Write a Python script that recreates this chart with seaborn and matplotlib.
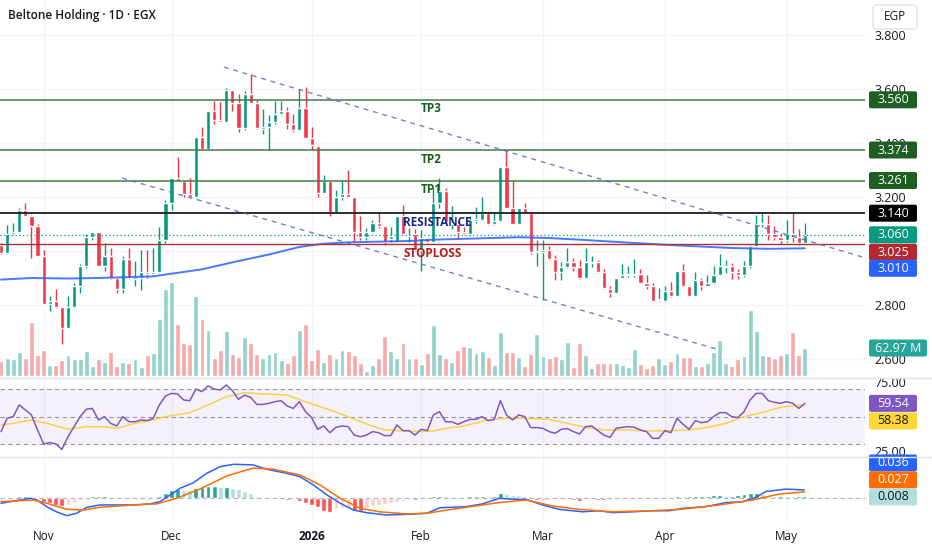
import numpy as np
import seaborn as sns
import matplotlib
matplotlib.use("Agg")
import matplotlib.pyplot as plt
from matplotlib.patches import FancyBboxPatch
from matplotlib.transforms import Affine2D
from matplotlib.lines import Line2D

# ---------------- data (daily bars, EGX) ----------------
opens = [3.023, 2.992, 3.064, 3.072, 3.150, 3.130, 3.091, 2.983, 2.805, 2.815,
         2.794, 2.713, 2.794, 2.872, 2.943, 3.050, 3.072, 2.943, 2.983, 2.900,
         2.860, 2.972, 2.898, 2.900, 2.922, 2.913, 2.922, 3.042, 3.179, 3.271,
         3.260, 3.211, 3.199, 3.422, 3.376, 3.520, 3.486, 3.478, 3.598, 3.548,
         3.457, 3.580, 3.548, 3.452, 3.459, 3.478, 3.508, 3.520, 3.469, 3.447,
         3.530, 3.420, 3.388, 3.214, 3.260, 3.140, 3.201, 3.211, 3.201, 3.072,
         3.051, 3.072, 3.103, 3.091, 3.045, 3.035, 3.130, 3.055, 3.064, 3.005,
         3.048, 3.032, 3.179, 3.222, 3.100, 3.100, 3.072, 3.064, 3.110, 3.115,
         3.140, 3.101, 3.112, 3.310, 3.158, 3.101, 3.158, 3.140, 2.995, 2.998,
         3.002, 2.972, 2.922, 2.941, 2.961, 2.941, 2.900, 2.955, 2.961, 2.922,
         2.860, 2.845, 2.900, 2.912, 2.912, 2.915, 2.882, 2.870, 2.818, 2.814,
         2.853, 2.833, 2.925, 2.872, 2.833, 2.892, 2.872, 2.882, 2.912, 2.940,
         2.943, 2.922, 2.912, 2.943, 3.020, 3.100, 3.101, 3.064, 3.051, 3.039,
         3.064, 3.051, 3.029]
highs = [3.030, 3.097, 3.103, 3.158, 3.179, 3.135, 3.100, 3.002, 2.833, 2.860,
         2.794, 2.833, 2.882, 2.953, 3.064, 3.072, 3.072, 3.030, 3.010, 2.905,
         2.980, 3.010, 2.962, 3.002, 3.002, 3.010, 3.090, 3.189, 3.271, 3.348,
         3.260, 3.272, 3.422, 3.460, 3.520, 3.557, 3.550, 3.605, 3.598, 3.582,
         3.594, 3.655, 3.560, 3.527, 3.502, 3.557, 3.557, 3.532, 3.508, 3.600,
         3.609, 3.459, 3.392, 3.280, 3.260, 3.226, 3.260, 3.300, 3.201, 3.128,
         3.084, 3.116, 3.142, 3.091, 3.090, 3.130, 3.170, 3.085, 3.080, 3.078,
         3.050, 3.238, 3.270, 3.232, 3.165, 3.110, 3.090, 3.130, 3.164, 3.201,
         3.146, 3.140, 3.310, 3.374, 3.260, 3.158, 3.177, 3.140, 3.042, 3.042,
         3.020, 2.985, 2.960, 3.010, 2.975, 2.968, 3.010, 2.980, 2.968, 2.935,
         2.870, 2.900, 2.952, 2.945, 2.970, 2.933, 2.912, 2.880, 2.862, 2.870,
         2.884, 2.925, 2.953, 2.875, 2.924, 2.900, 2.912, 2.943, 2.990, 2.968,
         2.955, 2.932, 2.962, 3.022, 3.134, 3.140, 3.134, 3.094, 3.068, 3.113,
         3.140, 3.082, 3.103]
lows = [2.990, 2.990, 3.060, 3.066, 3.128, 2.974, 2.980, 2.805, 2.777, 2.790,
        2.655, 2.713, 2.790, 2.845, 2.938, 3.040, 2.943, 2.925, 2.895, 2.845,
        2.845, 2.895, 2.870, 2.857, 2.900, 2.908, 2.918, 3.030, 3.152, 3.258,
        3.200, 3.196, 3.196, 3.374, 3.374, 3.472, 3.478, 3.478, 3.520, 3.440,
        3.447, 3.560, 3.452, 3.432, 3.374, 3.470, 3.502, 3.453, 3.440, 3.447,
        3.418, 3.373, 3.200, 3.214, 3.128, 3.140, 3.190, 3.201, 3.032, 3.040,
        3.040, 3.066, 3.085, 3.023, 3.035, 3.035, 3.060, 3.035, 3.000, 2.925,
        3.028, 3.030, 3.160, 3.103, 3.080, 3.048, 3.060, 3.060, 3.105, 3.115,
        3.097, 3.097, 3.112, 3.158, 3.101, 3.101, 3.140, 2.990, 2.943, 2.820,
        2.968, 2.894, 2.894, 2.938, 2.925, 2.897, 2.900, 2.940, 2.918, 2.860,
        2.828, 2.845, 2.900, 2.905, 2.905, 2.880, 2.860, 2.814, 2.814, 2.810,
        2.828, 2.833, 2.870, 2.833, 2.830, 2.857, 2.870, 2.878, 2.912, 2.918,
        2.896, 2.896, 2.904, 2.937, 3.020, 3.090, 3.042, 3.042, 3.025, 3.035,
        3.035, 3.023, 3.027]
closes = [2.992, 3.064, 3.072, 3.152, 3.130, 3.091, 2.983, 2.805, 2.815, 2.794,
          2.713, 2.794, 2.872, 2.943, 3.050, 3.072, 2.943, 2.983, 2.900, 2.860,
          2.972, 2.900, 2.902, 2.922, 2.913, 2.922, 3.042, 3.179, 3.271, 3.260,
          3.211, 3.199, 3.422, 3.376, 3.520, 3.484, 3.478, 3.598, 3.548, 3.457,
          3.580, 3.548, 3.457, 3.458, 3.478, 3.508, 3.520, 3.469, 3.447, 3.530,
          3.420, 3.392, 3.214, 3.260, 3.140, 3.201, 3.211, 3.201, 3.069, 3.051,
          3.072, 3.103, 3.091, 3.035, 3.055, 3.130, 3.064, 3.060, 3.005, 3.048,
          3.032, 3.179, 3.222, 3.109, 3.105, 3.072, 3.064, 3.115, 3.120, 3.140,
          3.101, 3.112, 3.310, 3.158, 3.101, 3.158, 3.140, 2.998, 3.000, 3.003,
          2.972, 2.922, 2.941, 2.961, 2.941, 2.900, 2.961, 2.960, 2.922, 2.863,
          2.845, 2.900, 2.912, 2.915, 2.915, 2.882, 2.870, 2.814, 2.820, 2.853,
          2.833, 2.925, 2.872, 2.833, 2.892, 2.872, 2.882, 2.912, 2.943, 2.945,
          2.922, 2.912, 2.943, 3.020, 3.101, 3.105, 3.064, 3.051, 3.039, 3.064,
          3.051, 3.029, 3.060]
volume_m = [34, 41, 38, 54, 40, 121, 47, 59, 25, 25,
            36, 47, 38, 38, 56, 23, 39, 32, 54, 23,
            32, 30, 39, 21, 48, 52, 128, 196, 212, 117,
            74, 72, 180, 128, 104, 41, 59, 102, 49, 43,
            87, 74, 49, 41, 49, 54, 35, 30, 47, 104,
            117, 36, 60, 32, 50, 40, 59, 56, 47, 29,
            12, 25, 41, 90, 57, 40, 74, 40, 41, 27,
            51, 115, 50, 40, 32, 59, 68, 65, 52, 56,
            43, 25, 99, 54, 54, 42, 23, 50, 95, 46,
            40, 46, 38, 76, 21, 74, 47, 19, 29, 29,
            29, 30, 25, 20, 61, 27, 17, 25, 41, 27,
            34, 51, 42, 42, 23, 23, 29, 55, 80, 30,
            23, 38, 45, 148, 102, 47, 46, 40, 47, 51,
            98, 47, 62.97]

# moving average on price (read at a few bars)
ma_bar = [0, 5, 11, 16, 22, 25, 28, 33, 38, 44, 49, 53, 57, 63, 67, 71, 76,
          85, 90, 95, 100, 109, 120, 126, 132]
ma_price = [2.894, 2.900, 2.898, 2.900, 2.904, 2.906, 2.916, 2.932, 2.958,
            2.987, 3.015, 3.027, 3.032, 3.035, 3.037, 3.042, 3.045, 3.051,
            3.048, 3.042, 3.035, 3.023, 3.011, 3.008, 3.010]

rsi = [39.0, 48.7, 49.9, 58.4, 54.7, 51.1, 40.2, 30.0, 31.0, 30.0,
       26.1, 35.3, 42.6, 49.9, 55.2, 55.9, 47.5, 49.9, 45.0, 43.1,
       49.9, 46.2, 46.2, 47.5, 47.0, 48.7, 58.4, 64.9, 66.8, 66.4,
       62.0, 61.5, 70.0, 68.1, 72.2, 70.0, 69.3, 72.9, 68.8, 62.5,
       65.6, 63.9, 58.8, 58.8, 59.6, 60.8, 61.5, 57.6, 55.9, 60.8,
       53.5, 49.2, 40.7, 43.1, 38.2, 42.1, 43.1, 42.6, 36.5, 35.3,
       36.5, 39.0, 38.2, 36.1, 36.1, 43.8, 39.7, 39.7, 36.5, 40.7,
       39.7, 51.1, 53.5, 46.2, 46.2, 44.3, 46.2, 47.9, 47.9, 49.9,
       47.0, 47.9, 61.5, 51.1, 47.5, 51.1, 49.9, 41.9, 41.9, 41.4,
       39.0, 37.8, 40.7, 41.2, 39.0, 37.3, 42.6, 43.1, 39.7, 36.5,
       34.8, 41.4, 42.1, 42.6, 42.1, 40.2, 39.0, 34.1, 34.1, 39.7,
       38.2, 48.7, 44.3, 40.7, 47.0, 45.5, 46.2, 49.9, 52.8, 52.8,
       49.9, 49.2, 53.5, 62.0, 66.8, 66.8, 61.5, 60.3, 59.6, 60.8,
       59.6, 55.9, 59.54]
rsi_ma_bar = [0, 2, 5, 8, 11, 14, 17, 19, 22, 25, 27, 31, 34, 37, 40, 43, 47,
              50, 54, 57, 60, 63, 66, 69, 71, 73, 76, 80, 83, 86, 90, 93, 96,
              99, 103, 106, 109, 113, 116, 119, 122, 125, 128, 131, 132]
rsi_ma = [43.8, 45.0, 47.5, 44.5, 40.7, 42.6, 42.6, 41.4, 45.0, 47.5, 49.9,
          52.8, 58.4, 64.4, 67.3, 66.4, 65.6, 60.8, 54.7, 49.9, 44.5, 40.2,
          39.5, 39.0, 39.5, 41.4, 43.1, 47.5, 48.7, 48.7, 47.9, 45.0, 42.1,
          40.2, 40.2, 39.5, 39.5, 40.2, 42.1, 45.0, 49.9, 52.8, 56.7, 58.2,
          58.38]

macd_bar = [0, 1.5, 3.1, 4.8, 5.9, 7.5, 9.1, 10.8, 12.4, 14.1, 16.3, 19.0,
            21.7, 24.5, 26.1, 27.8, 29.4, 31.6, 33.8, 36.0, 38.2, 41.4, 43.6,
            46.9, 49.1, 51.3, 53.5, 55.7, 57.9, 60.0, 63.3, 66.6, 69.9, 72.1,
            76.4, 79.1, 81.8, 84.6, 86.2, 88.9, 91.7, 95.5, 98.2, 100.4, 103.7,
            107.0, 109.7, 111.9, 115.8, 119.0, 121.8, 124.0, 125.6, 128.9, 131.9]
macd = [-0.026, -0.019, -0.011, -0.003, -0.011, -0.042, -0.066, -0.084, -0.073,
        -0.045, -0.034, -0.034, -0.034, -0.029, -0.019, 0.013, 0.044, 0.070,
        0.114, 0.145, 0.156, 0.153, 0.133, 0.114, 0.098, 0.059, 0.013, -0.026,
        -0.058, -0.070, -0.081, -0.078, -0.073, -0.047, -0.042, -0.029, -0.003,
        -0.008, -0.008, -0.034, -0.055, -0.066, -0.061, -0.070, -0.066, -0.061,
        -0.061, -0.050, -0.042, -0.023, -0.019, 0.002, 0.029, 0.040, 0.036]
signal_bar = [0, 3.1, 5.3, 7.5, 10.8, 13.5, 16.3, 21.7, 25.6, 28.8, 32.7, 37.1,
              41.4, 44.7, 49.1, 52.4, 55.7, 59.0, 62.2, 66.6, 69.9, 73.2, 76.4,
              81.8, 86.2, 90.6, 95.0, 100.4, 107.0, 111.3, 117.9, 123.4, 127.8,
              131.9]
signal = [-0.019, -0.014, -0.011, -0.026, -0.054, -0.058, -0.045, -0.034,
          -0.029, -0.003, 0.041, 0.102, 0.138, 0.133, 0.106, 0.059, -0.003,
          -0.050, -0.066, -0.076, -0.073, -0.058, -0.045, -0.023, -0.011,
          -0.039, -0.055, -0.066, -0.061, -0.055, -0.034, -0.011, 0.017, 0.027]
macd_hist = [-0.004, -0.003, 0.002, 0.010, 0.010, 0.005, -0.005, -0.020, -0.025, -0.035,
             -0.040, -0.032, -0.025, -0.012, 0.004, 0.008, 0.010, 0.010, 0.004, 0.002,
             0.005, 0.003, 0.002, 0.004, 0.004, 0.004, 0.008, 0.022, 0.035, 0.040,
             0.036, 0.034, 0.045, 0.050, 0.055, 0.055, 0.050, 0.052, 0.045, 0.040,
             0.030, 0.022, 0.010, 0.005, -0.003, -0.006, -0.008, -0.012, -0.010, -0.015,
             -0.025, -0.035, -0.045, -0.060, -0.065, -0.055, -0.048, -0.045, -0.060, -0.062,
             -0.048, -0.040, -0.035, -0.030, -0.025, -0.018, -0.014, -0.010, -0.012, -0.006,
             -0.003, 0.006, 0.010, 0.006, 0.005, 0.004, 0.003, 0.008, 0.008, 0.010,
             0.008, 0.010, 0.023, 0.016, 0.014, 0.012, 0.010, -0.004, -0.010, -0.012,
             -0.011, -0.008, -0.008, -0.006, -0.012, -0.015, -0.005, -0.004, -0.010, -0.010,
             -0.009, -0.004, -0.003, -0.002, 0.004, 0.004, 0.002, -0.004, -0.004, -0.002,
             0.005, 0.007, 0.006, 0.006, 0.008, 0.009, 0.010, 0.012, 0.012, 0.008,
             0.008, 0.014, 0.017, 0.020, 0.024, 0.015, 0.012, 0.010, 0.010, 0.009,
             0.008, 0.008, 0.008]

month_bar = [7, 28, 51, 69, 89, 109, 129]
month_labels = ["Nov", "Dec", "2026", "Feb", "Mar", "Apr", "May"]

tp_levels = [3.560, 3.374, 3.261]
tp_names = ["TP3", "TP2", "TP1"]
resistance = 3.140
stoploss = 3.025
last_price = 3.060
# channel drawn on the chart: (bar, price) end points
upper_channel = ([36.6, 142.0], [3.681, 2.974])
lower_channel = ([19.9, 118.1], [3.270, 2.633])

# ---------------- figure ----------------
sns.set_theme(style="white")
plt.rcParams["font.family"] = ["Open Sans", "DejaVu Sans"]
TXT = "#131722"
GRID = "#f0f3fa"
UP, DOWN = "#089981", "#f23645"

W, H = 932, 550
fig = plt.figure(figsize=(W / 100, H / 100), dpi=100)
pix = Affine2D().scale(1, -1).translate(0, H)   # pixel coords from top-left


def rect(top, bottom, right=865):
    return [0, 1 - bottom / H, right / W, (bottom - top) / H]


ax = fig.add_axes(rect(0, 378))
axv = ax.twinx()
ax_rsi = fig.add_axes(rect(378, 455), sharex=ax)
ax_macd = fig.add_axes(rect(457, 522), sharex=ax)

bars = np.arange(len(opens))
o, h, l, c = map(np.array, (opens, highs, lows, closes))
up = c >= o
col = np.where(up, UP, DOWN)
h = np.maximum(h, np.maximum(o, c))
l = np.minimum(l, np.minimum(o, c))

# grid
ax.set_xlim(-0.164, 141.87)
ax.set_ylim(2.5296, 3.9296)
ax.set_xticks(month_bar)
ax.set_yticks([2.6, 2.8, 3.0, 3.2, 3.4, 3.6, 3.8])
ax.grid(True, color=GRID, lw=1)

# candles
ax.vlines(bars, l, h, colors=col, lw=1, zorder=2)
body = np.maximum(np.abs(c - o), 0.004)
ax.bar(bars, body, bottom=np.minimum(o, c), width=0.68, color=col, zorder=2)

# moving average
sns.lineplot(x=ma_bar, y=ma_price, ax=ax, color="#2962ff", lw=1.4, alpha=0.85, zorder=3)

# levels
for lv, name in zip(tp_levels, tp_names):
    ax.axhline(lv, color="#3d7a3f", lw=1.2, alpha=0.9, zorder=3)
    ax.text(70.6, lv - 0.034, name, color="#1b5e20", fontsize=8.5, fontweight="bold",
            ha="center", va="center", zorder=5)
ax.axhline(resistance, color="#1c1c1c", lw=1.3, zorder=3)
ax.axhline(stoploss, color="#a8323c", lw=1.0, zorder=3)
ax.axhline(last_price, color=UP, lw=0.9, ls=(0, (1, 2)), zorder=3)
ax.text(71.6, resistance - 0.033, "RESISTANCE", color="#1a2a80", fontsize=8.5,
        fontweight="bold", ha="center", va="center", zorder=5)
ax.text(70.9, stoploss - 0.036, "STOPLOSS", color="#b71c1c", fontsize=8.5,
        fontweight="bold", ha="center", va="center", zorder=5)

for xs, ys in (upper_channel, lower_channel):
    ax.plot(xs, ys, color="#5c6bc0", lw=1, ls=(0, (3.5, 3.5)), alpha=0.85, zorder=3)

# volume overlay
vcol = np.where(up, "#92d2cb", "#f7a9a7")
axv.bar(bars, volume_m, width=0.8, color=vcol, zorder=1)
axv.set_ylim(-4.5, 846)
axv.set_yticks([])

ax.yaxis.tick_right()
ax.set_yticklabels([f"{v:.3f}" for v in ax.get_yticks()])
ax.tick_params(axis="y", length=0, pad=7, labelsize=9, labelcolor=TXT)
ax.tick_params(axis="x", length=0, labelbottom=False)

# RSI pane
ax_rsi.set_ylim(22.0, 78.0)
ax_rsi.axhspan(30, 70, color="#7e57c2", alpha=0.08, lw=0)
for lv in (70, 50, 30):
    ax_rsi.axhline(lv, color="#9598a1", lw=0.8, ls=(0, (4, 3)))
sns.lineplot(x=rsi_ma_bar, y=rsi_ma, ax=ax_rsi, color="#f7d24a", lw=1.1)
sns.lineplot(x=bars, y=rsi, ax=ax_rsi, color="#7e57c2", lw=1.1)
ax_rsi.yaxis.tick_right()
ax_rsi.set_yticks([25, 75])
ax_rsi.set_yticklabels(["25.00", "75.00"])
ax_rsi.tick_params(axis="y", length=0, pad=7, labelsize=9, labelcolor=TXT)
ax_rsi.tick_params(axis="x", length=0, labelbottom=False)
ax_rsi.grid(True, axis="x", color=GRID, lw=1)

# MACD pane
ax_macd.set_ylim(-0.1137, 0.190)
hist = np.array(macd_hist)
prev = np.r_[hist[0], hist[:-1]]
hcol = np.where(hist >= 0,
                np.where(hist >= prev, "#26a69a", "#b2dfdb"),
                np.where(hist <= prev, "#ff5252", "#ffcdd2"))
ax_macd.axhline(0, color="#9598a1", lw=0.8, ls=(0, (4, 3)), alpha=0.7)
ax_macd.bar(bars, hist, width=0.8, color=hcol)
sns.lineplot(x=macd_bar, y=macd, ax=ax_macd, color="#2962ff", lw=1.1)
sns.lineplot(x=signal_bar, y=signal, ax=ax_macd, color="#ff6d00", lw=1.1)
ax_macd.set_yticks([])
ax_macd.grid(True, axis="x", color=GRID, lw=1)
ax_macd.set_xticks(month_bar)
ax_macd.set_xticklabels(month_labels)
ax_macd.tick_params(axis="x", length=0, pad=6, labelsize=8.5, labelcolor=TXT,
                    labelbottom=True)
ax_macd.get_xticklabels()[2].set_fontweight("bold")

for a in (ax, axv, ax_rsi, ax_macd):
    a.set_xlabel("")
    a.set_ylabel("")
    for s in a.spines.values():
        s.set_visible(False)
axv.patch.set_visible(False)

# pane separators
for yy in (377.5, 456.5):
    fig.add_artist(Line2D([0, W], [yy, yy], transform=pix, color="#e0e3eb", lw=1))


# price-scale tags
def y_of(axis, v):
    return H - axis.transData.transform((0, v))[1]


def tag(ytop, text, fc, tc="white", w=48):
    fig.add_artist(FancyBboxPatch((869, ytop - 8.5), w, 17,
                                  boxstyle="round,pad=0,rounding_size=2",
                                  transform=pix, fc=fc, ec="none"))
    fig.text(869 + w / 2, ytop, text, transform=pix, ha="center", va="center",
             color=tc, fontsize=9)


for lv in tp_levels:
    tag(y_of(ax, lv), f"{lv:.3f}", "#1e5e22")
tag(y_of(ax, resistance), f"{resistance:.3f}", "#000000")
tag(y_of(ax, last_price), f"{last_price:.3f}", UP)
tag(y_of(ax, stoploss) + 8, f"{stoploss:.3f}", "#b22833")
tag(y_of(ax, ma_price[-1]) + 20, f"{ma_price[-1]:.3f}", "#2962ff")
tag(y_of(axv, volume_m[-1]), f"{volume_m[-1]:.2f} M", "#26a69a", w=58)
tag(y_of(ax_rsi, rsi[-1]), f"{rsi[-1]:.2f}", "#7e57c2")
tag(y_of(ax_rsi, rsi_ma[-1]) + 16, f"{rsi_ma[-1]:.2f}", "#fdd835", tc=TXT)
tag(y_of(ax_macd, macd[-1]) - 27, f"{macd[-1]:.3f}", "#2962ff")
tag(y_of(ax_macd, signal[-1]) - 12, f"{signal[-1]:.3f}", "#ff6d00")
tag(y_of(ax_macd, macd_hist[-1]) + 1, f"{macd_hist[-1]:.3f}", "#b2dfdb", tc=TXT)

# header
fig.text(8, 16, "Beltone Holding · 1D · EGX", transform=pix, ha="left",
         va="center", color=TXT, fontsize=8.5, fontweight="semibold")
fig.add_artist(FancyBboxPatch((873, 5), 44, 24, boxstyle="round,pad=0,rounding_size=4",
                              transform=pix, fc="white", ec="#e0e3eb", lw=1))
fig.text(895, 17, "EGP", transform=pix, ha="center", va="center", color=TXT, fontsize=8.5)

fig.savefig("out.png", dpi=100, facecolor="white")
